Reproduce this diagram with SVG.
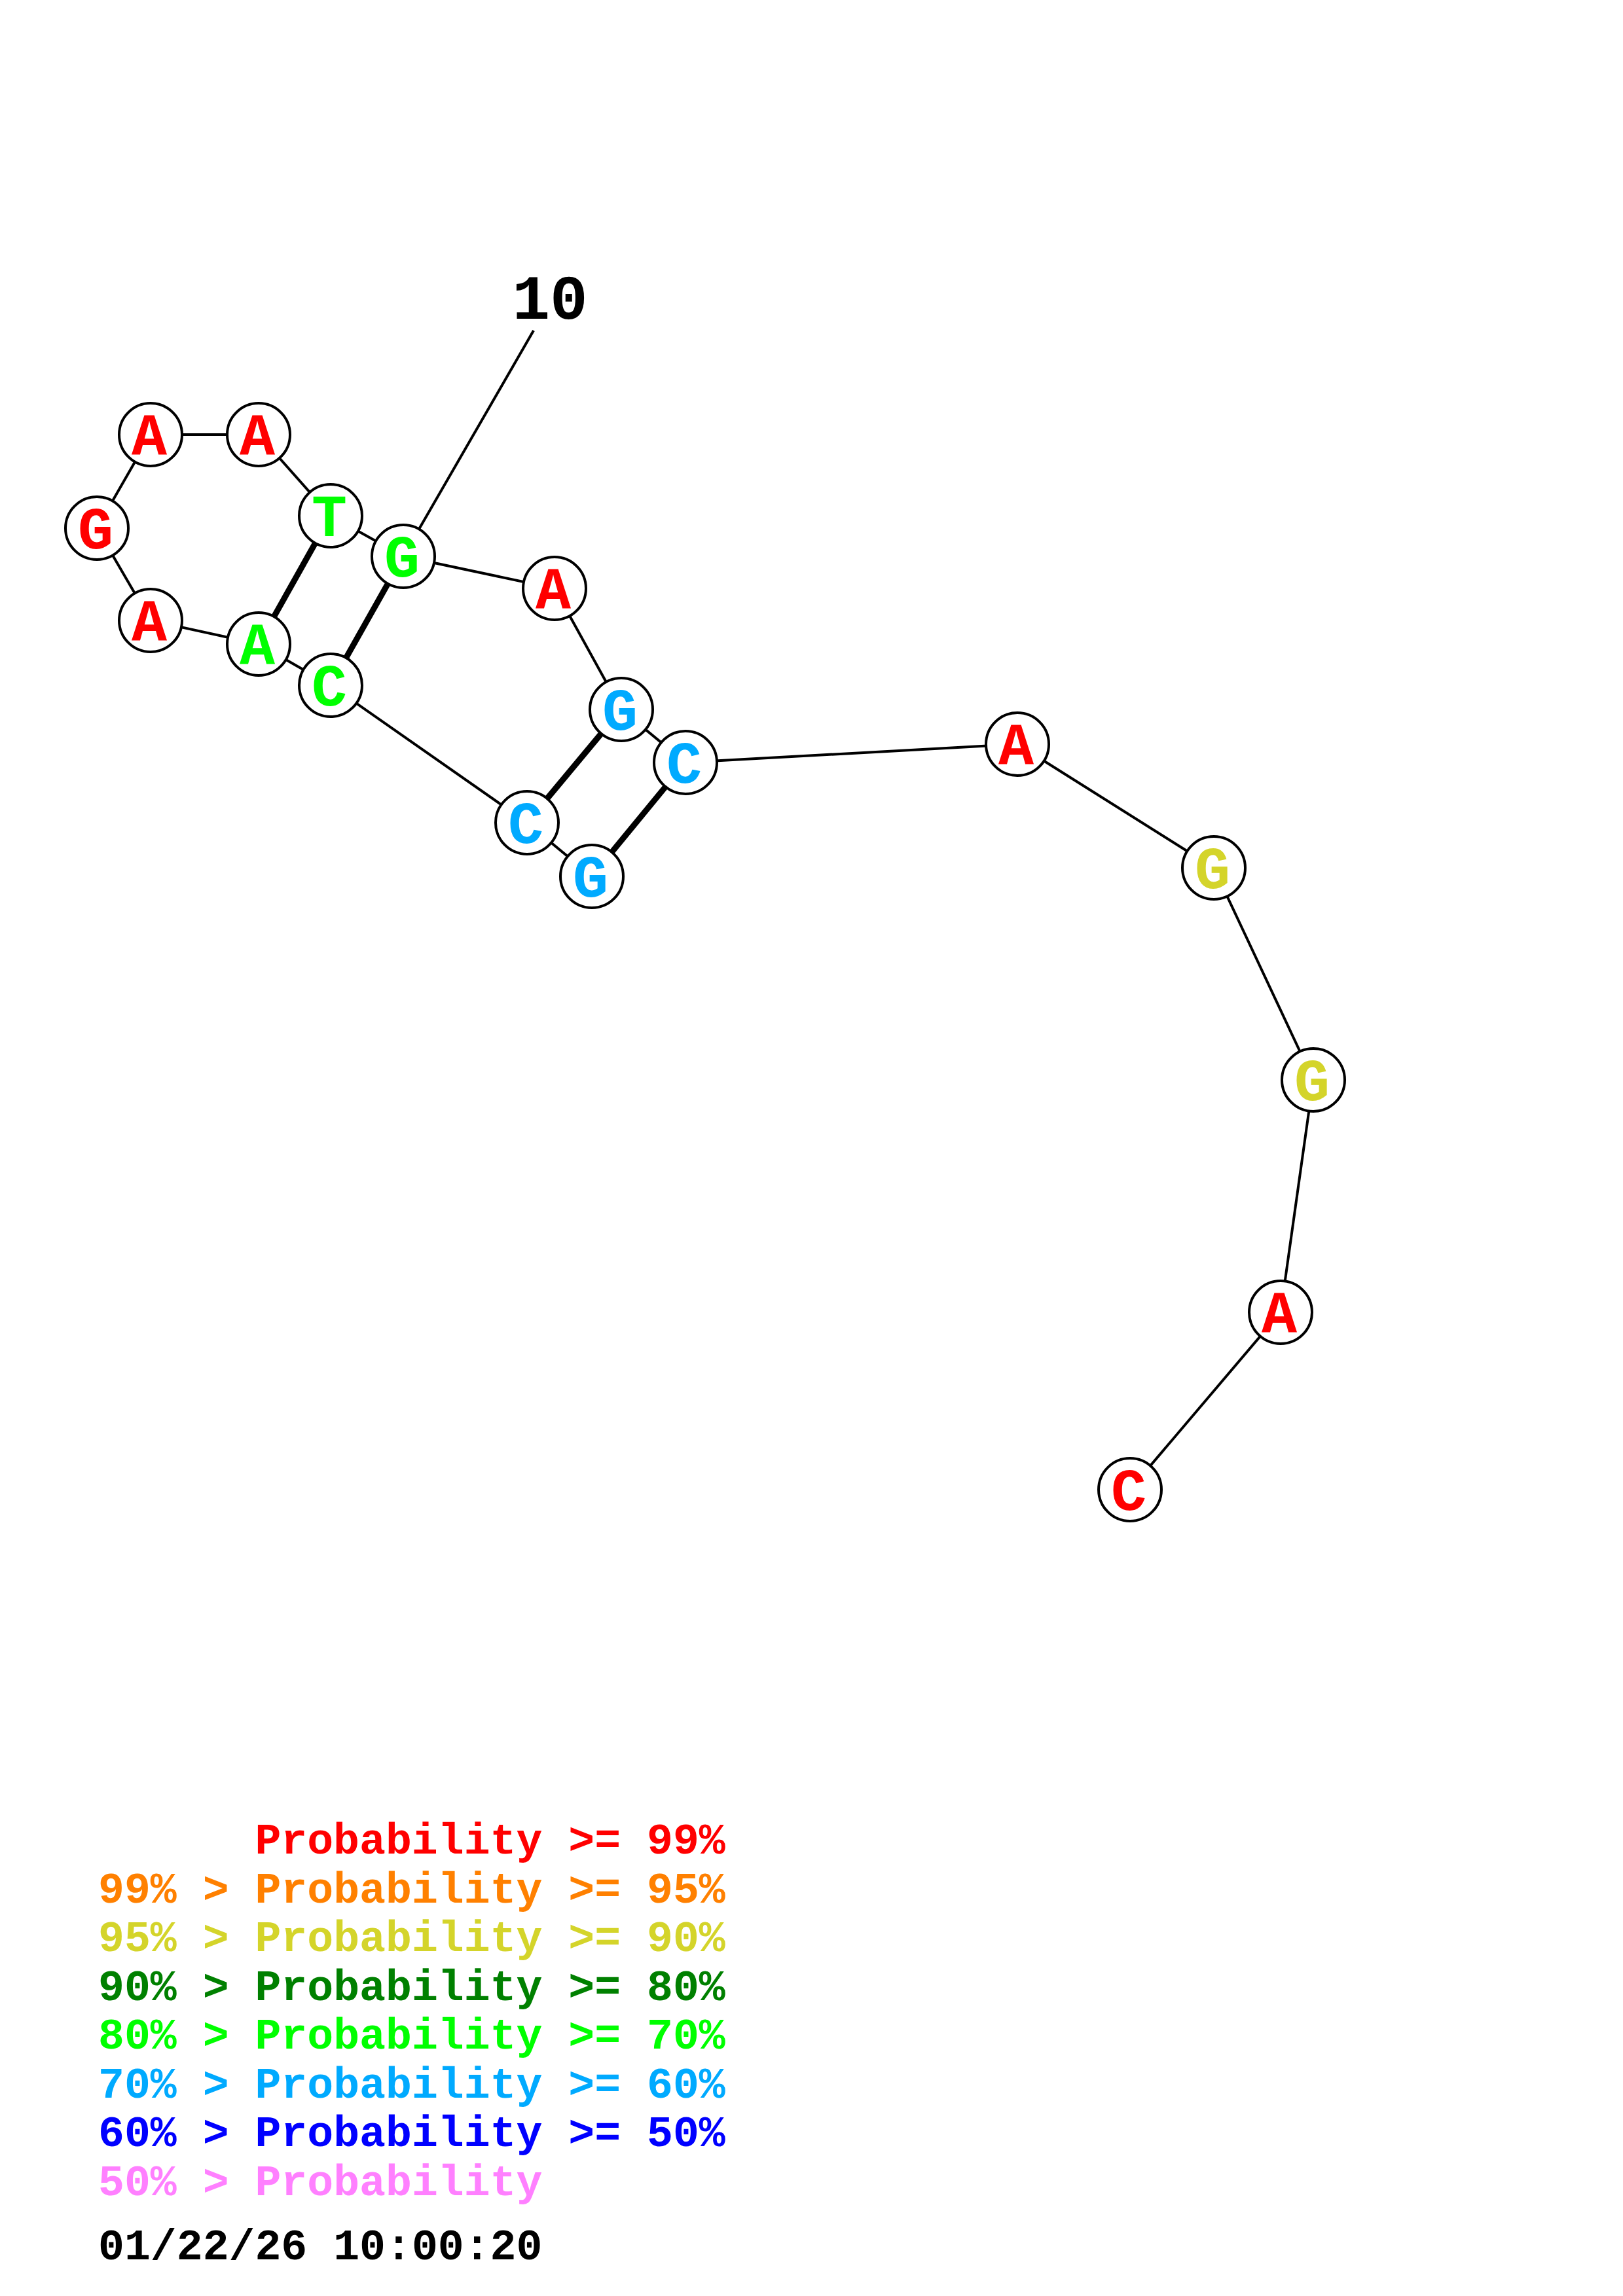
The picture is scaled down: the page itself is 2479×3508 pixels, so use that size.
<svg xmlns="http://www.w3.org/2000/svg" width="2479" height="3508" viewBox="0 0 2479 3508">
<style>
.bb{stroke:#000;stroke-width:4;fill:none}
.bp{stroke:#000;stroke-width:9;fill:none}
.nd circle{fill:#fff;stroke:#000;stroke-width:4}
.nd text{font-family:"Liberation Mono",monospace;font-weight:bold;font-size:90px;text-anchor:middle}
.r{fill:#FF0000}.g{fill:#00FF00}.b{fill:#00AAFF}.y{fill:#D4D42A}
.lg{font-family:"Liberation Mono",monospace;font-weight:bold;font-size:66.5px}
</style>
<rect width="2479" height="3508" fill="#fff"/>
<g id="connectors">
<line class="bb" x1="815" y1="505" x2="616" y2="850"/>
<line class="bb" x1="230" y1="664" x2="395" y2="664"/>
<line class="bb" x1="230" y1="664" x2="148" y2="807"/>
<line class="bb" x1="148" y1="807" x2="230" y2="948"/>
<line class="bb" x1="230" y1="948" x2="395" y2="984"/>
<line class="bb" x1="395" y1="984" x2="505" y2="1047"/>
<line class="bb" x1="505" y1="1047" x2="805" y2="1257"/>
<line class="bb" x1="805" y1="1257" x2="904" y2="1339"/>
<line class="bb" x1="395" y1="664" x2="505" y2="788"/>
<line class="bb" x1="505" y1="788" x2="616" y2="850"/>
<line class="bb" x1="616" y1="850" x2="847" y2="899"/>
<line class="bb" x1="847" y1="899" x2="949" y2="1084"/>
<line class="bb" x1="949" y1="1084" x2="1047" y2="1165"/>
<line class="bb" x1="1047" y1="1165" x2="1554" y2="1137"/>
<line class="bb" x1="1554" y1="1137" x2="1854" y2="1326"/>
<line class="bb" x1="1854" y1="1326" x2="2006" y2="1650"/>
<line class="bb" x1="2006" y1="1650" x2="1956" y2="2005"/>
<line class="bb" x1="1956" y1="2005" x2="1726" y2="2276"/>
<line class="bp" x1="505" y1="788" x2="395" y2="984"/>
<line class="bp" x1="616" y1="850" x2="505" y2="1047"/>
<line class="bp" x1="949" y1="1084" x2="805" y2="1257"/>
<line class="bp" x1="1047" y1="1165" x2="904" y2="1339"/>
</g>
<text x="840" y="487" font-family="Liberation Mono, monospace" font-weight="bold" font-size="96" text-anchor="middle">10</text>
<g id="n1" class="nd"><circle cx="904" cy="1339" r="48"/><text class="b" x="902" y="1370">G</text></g>
<g id="n2" class="nd"><circle cx="805" cy="1257" r="48"/><text class="b" x="803" y="1288">C</text></g>
<g id="n3" class="nd"><circle cx="505" cy="1047" r="48"/><text class="g" x="503" y="1078">C</text></g>
<g id="n4" class="nd"><circle cx="395" cy="984" r="48"/><text class="g" x="393" y="1015">A</text></g>
<g id="n5" class="nd"><circle cx="230" cy="948" r="48"/><text class="r" x="228" y="979">A</text></g>
<g id="n6" class="nd"><circle cx="148" cy="807" r="48"/><text class="r" x="146" y="838">G</text></g>
<g id="n7" class="nd"><circle cx="230" cy="664" r="48"/><text class="r" x="228" y="695">A</text></g>
<g id="n8" class="nd"><circle cx="395" cy="664" r="48"/><text class="r" x="393" y="695">A</text></g>
<g id="n9" class="nd"><circle cx="505" cy="788" r="48"/><text class="g" x="503" y="819">T</text></g>
<g id="n10" class="nd"><circle cx="616" cy="850" r="48"/><text class="g" x="614" y="881">G</text></g>
<g id="n11" class="nd"><circle cx="847" cy="899" r="48"/><text class="r" x="845" y="930">A</text></g>
<g id="n12" class="nd"><circle cx="949" cy="1084" r="48"/><text class="b" x="947" y="1115">G</text></g>
<g id="n13" class="nd"><circle cx="1047" cy="1165" r="48"/><text class="b" x="1045" y="1196">C</text></g>
<g id="n14" class="nd"><circle cx="1554" cy="1137" r="48"/><text class="r" x="1552" y="1168">A</text></g>
<g id="n15" class="nd"><circle cx="1854" cy="1326" r="48"/><text class="y" x="1852" y="1357">G</text></g>
<g id="n16" class="nd"><circle cx="2006" cy="1650" r="48"/><text class="y" x="2004" y="1681">G</text></g>
<g id="n17" class="nd"><circle cx="1956" cy="2005" r="48"/><text class="r" x="1954" y="2036">A</text></g>
<g id="n18" class="nd"><circle cx="1726" cy="2276" r="48"/><text class="r" x="1724" y="2307">C</text></g>
<g id="legend" class="lg">
<text x="389.4" y="2832" fill="#FF0000">Probability &gt;= 99%</text>
<text x="150" y="2907" fill="#FF8000">99% &gt; Probability &gt;= 95%</text>
<text x="150" y="2981" fill="#D4D42A">95% &gt; Probability &gt;= 90%</text>
<text x="150" y="3056" fill="#008000">90% &gt; Probability &gt;= 80%</text>
<text x="150" y="3130" fill="#00FF00">80% &gt; Probability &gt;= 70%</text>
<text x="150" y="3205" fill="#00AAFF">70% &gt; Probability &gt;= 60%</text>
<text x="150" y="3279" fill="#0000FF">60% &gt; Probability &gt;= 50%</text>
<text x="150" y="3354" fill="#FF80FF">50% &gt; Probability</text>
<text x="150" y="3452" fill="#000000">01/22/26 10:00:20</text>
</g>
</svg>
